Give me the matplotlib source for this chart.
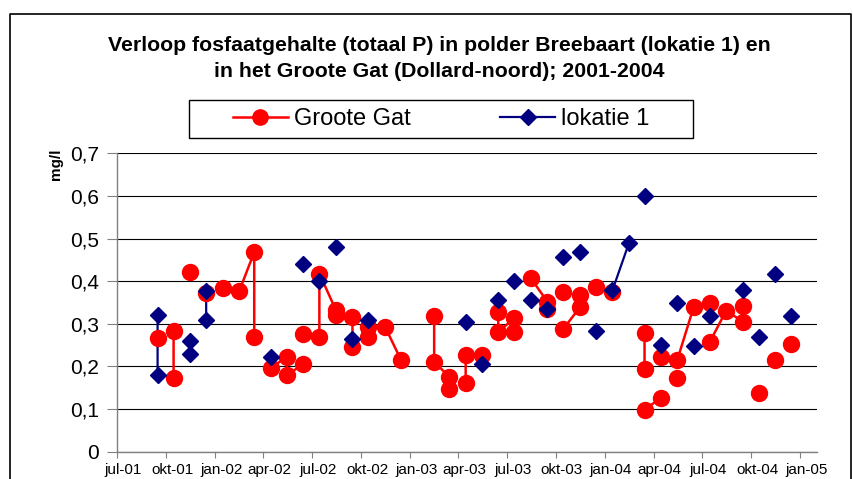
import numpy as np
import pandas as pd
import matplotlib
matplotlib.use("Agg")
import matplotlib.pyplot as plt
from matplotlib.lines import Line2D
from matplotlib.patches import Rectangle
from matplotlib.transforms import ScaledTranslation

plt.rcParams['font.family'] = ['Liberation Sans', 'DejaVu Sans']

# Groote Gat (None = break in the line)
red_month = [
    "2001-09", None,
    "2001-10", "2001-10", None,
    "2001-11", None,
    "2001-12", None,
    "2002-01", "2002-02", "2002-03", "2002-03", None,
    "2002-04", "2002-05", "2002-05", "2002-06", None,
    "2002-06", None,
    "2002-07", "2002-07", "2002-08", "2002-08", None,
    "2002-09", "2002-09", None,
    "2002-10", "2002-10", None,
    "2002-11", "2002-12", None,
    "2003-02", "2003-02", "2003-03", "2003-03", None,
    "2003-04", "2003-04", None,
    "2003-05", None,
    "2003-06", "2003-06", "2003-07", "2003-07", None,
    "2003-08", "2003-09", "2003-09", None,
    "2003-10", None,
    "2003-10", "2003-11", "2003-11", None,
    "2003-12", None,
    "2004-01", None,
    "2004-03", "2004-03", None,
    "2004-03", "2004-04", None,
    "2004-04", "2004-05", "2004-06", "2004-07", None,
    "2004-05", None,
    "2004-07", "2004-08", "2004-09", "2004-09", None,
    "2004-10", None,
    "2004-11", None,
    "2004-12",
]
red_value = [
    0.267, None,
    0.284, 0.173, None,
    0.422, None,
    0.372, None,
    0.385, 0.377, 0.468, 0.268, None,
    0.196, 0.223, 0.180, 0.205, None,
    0.275, None,
    0.270, 0.418, 0.332, 0.321, None,
    0.317, 0.246, None,
    0.293, 0.270, None,
    0.293, 0.215, None,
    0.318, 0.211, 0.176, 0.146, None,
    0.227, 0.162, None,
    0.228, None,
    0.328, 0.281, 0.313, 0.281, None,
    0.407, 0.352, 0.334, None,
    0.375, None,
    0.288, 0.339, 0.368, None,
    0.387, None,
    0.375, None,
    0.279, 0.193, None,
    0.098, 0.127, None,
    0.223, 0.214, 0.339, 0.348, None,
    0.173, None,
    0.257, 0.331, 0.305, 0.342, None,
    0.138, None,
    0.215, None,
    0.253,
]

# lokatie 1
blue_month = [
    "2001-09", "2001-09", None,
    "2001-11", "2001-11", None,
    "2001-12", "2001-12", None,
    "2002-04", None, "2002-06", None, "2002-07", None, "2002-08", None,
    "2002-09", None, "2002-10", None,
    "2003-04", None, "2003-05", None, "2003-06", None, "2003-07", None,
    "2003-08", None, "2003-09", None, "2003-10", None, "2003-11", None,
    "2003-12", None,
    "2004-01", "2004-02", None,
    "2004-03", None, "2004-04", None, "2004-05", None, "2004-06", None,
    "2004-07", None, "2004-09", None, "2004-10", None, "2004-11", None,
    "2004-12",
]
blue_value = [
    0.321, 0.180, None,
    0.260, 0.229, None,
    0.378, 0.309, None,
    0.221, None, 0.440, None, 0.400, None, 0.480, None,
    0.264, None, 0.309, None,
    0.305, None, 0.205, None, 0.356, None, 0.400, None,
    0.356, None, 0.334, None, 0.456, None, 0.469, None,
    0.284, None,
    0.379, 0.490, None,
    0.600, None, 0.250, None, 0.350, None, 0.249, None,
    0.319, None, 0.379, None, 0.268, None, 0.418, None,
    0.319,
]

tick_dates = pd.date_range("2001-07-01", "2005-01-01", freq="3MS")
tick_labels = ["jul-01", "okt-01", "jan-02", "apr-02", "jul-02", "okt-02", "jan-03",
               "apr-03", "jul-03", "okt-03", "jan-04", "apr-04", "jul-04", "okt-04", "jan-05"]
y_ticks = [0, 0.1, 0.2, 0.3, 0.4, 0.5, 0.6, 0.7]
y_labels = ["0", "0,1", "0,2", "0,3", "0,4", "0,5", "0,6", "0,7"]


def build(months, values):
    xs, ys = [], []
    last = None
    for m, v in zip(months, values):
        if m is not None:
            last = pd.Timestamp(m + "-15")
        xs.append(last)
        ys.append(np.nan if v is None else v)
    return xs, np.array(ys, dtype=float)


rx, ry = build(red_month, red_value)
bx, by = build(blue_month, blue_value)

RED = "#ff0000"
BLUE = "#000080"

W, H = 854, 479
fig = plt.figure(figsize=(W / 100, H / 100), dpi=100)
ax = fig.add_axes([117 / W, 1 - 451.7 / H, 700 / W, (451.7 - 153.3) / H])

ax.plot(rx, ry, color=RED, lw=1.8, zorder=2)
ax.plot(bx, by, color=BLUE, lw=1.6, zorder=2)
ax.plot(rx, ry, ls="none", marker="o", ms=11.5, color=RED, zorder=3)
ax.plot(bx, by, ls="none", marker="D", ms=7.8, color=BLUE, zorder=4)

ax.set_xlim(pd.Timestamp("2001-07-01"), pd.Timestamp("2005-02-01"))
ax.set_ylim(0, 0.7)
ax.set_xticks(tick_dates)
ax.set_xticklabels(tick_labels)
ax.set_yticks(y_ticks)
ax.set_yticklabels(y_labels)

ax.yaxis.grid(True, color="black", lw=0.8, zorder=1)
ax.set_axisbelow(True)
for s in ["top", "right"]:
    ax.spines[s].set_visible(False)
for s in ["left", "bottom"]:
    ax.spines[s].set_color("#808080")
    ax.spines[s].set_linewidth(1)

ax.tick_params(axis="y", direction="out", length=7, color="#808080", labelsize=15, pad=6)
ax.tick_params(axis="x", direction="out", length=4, color="#808080", labelsize=11, pad=4)
for lbl in ax.get_xticklabels():
    lbl.set_transform(lbl.get_transform() + ScaledTranslation(6 / 100, 0, fig.dpi_scale_trans))

fig.text(56 / W, 1 - 164 / H, "mg/l", rotation=90, fontweight="bold", fontsize=11,
         ha="center", va="center")

fig.text(439 / W, 1 - 58.5 / H,
         "Verloop fosfaatgehalte (totaal P) in polder Breebaart (lokatie 1) en\n"
         "in het Groote Gat (Dollard-noord); 2001-2004",
         ha="center", va="center", fontsize=15.3, fontweight="bold", linespacing=1.45)

handles = [
    Line2D([], [], color=RED, lw=1.8, marker="o", ms=11),
    Line2D([], [], color=BLUE, lw=1.6, marker="D", ms=7.8),
]
fig.legend(handles, ["Groote Gat", "lokatie 1"], loc="center",
           bbox_to_anchor=(441 / W, 1 - 119 / H), bbox_transform=fig.transFigure,
           ncol=2, frameon=False, fontsize=17, columnspacing=3.8,
           handlelength=2.33, handletextpad=0.25, borderpad=0.2)
fig.add_artist(Rectangle((189.5 / W, 1 - 137.7 / H), 503.5 / W, 37.7 / H,
                         transform=fig.transFigure, fill=False, ec="black", lw=1))

fig.add_artist(Line2D([10 / W, 10 / W, 851 / W, 851 / W], [0, 1 - 14 / H, 1 - 14 / H, 0],
                      transform=fig.transFigure, color="black", lw=1.2))

fig.savefig("out.png", dpi=100)
